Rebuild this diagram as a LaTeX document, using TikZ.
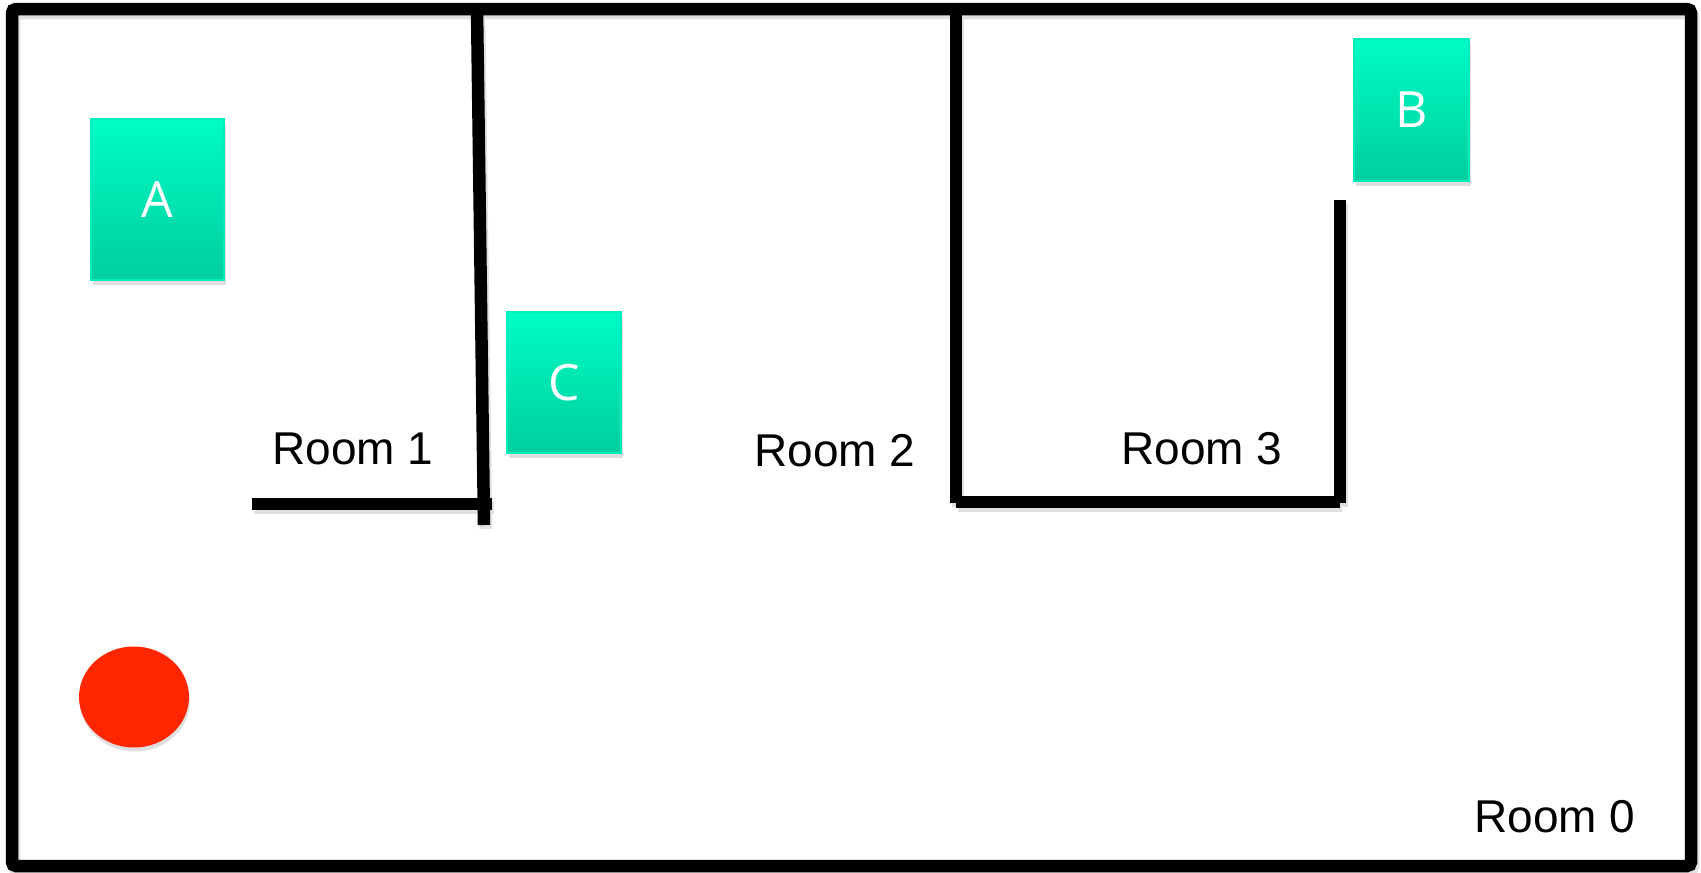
\documentclass[tikz,border=0pt]{standalone}
\usepackage{fontspec}
\setmainfont{Liberation Sans}
\newfontfamily\boxfont{Open Sans}
\usetikzlibrary{shadows,shapes.geometric}
\definecolor{boxtop}{RGB}{0,252,196}
\definecolor{boxbot}{RGB}{0,206,160}
\definecolor{boxedge}{RGB}{0,236,188}
\definecolor{ballred}{RGB}{255,38,0}
\tikzset{
  wall/.style={line width=12.5pt, black},
  wallshadow/.style={line width=12.5pt, black!12},
  itembox/.style={rectangle, top color=boxtop, bottom color=boxbot, draw=boxedge, line width=1.5pt,
    text=white, font=\boxfont\fontsize{50}{54}\selectfont,
    drop shadow={opacity=0.25, shadow xshift=2pt, shadow yshift=-5pt}},
  roomlabel/.style={font=\fontsize{46}{50}\selectfont, text=black, inner sep=0pt}
}
\begin{document}
\begin{tikzpicture}[x=1pt,y=-1pt]
\useasboundingbox (0,0) rectangle (1701,873);
\fill[white] (0,0) rectangle (1701,873);
% soft shadows of walls
\begin{scope}[shift={(2,4)}]
\draw[wallshadow, rounded corners=4pt] (12,9) rectangle (1691,866);
\draw[wallshadow] (477,8) -- (484,525);
\draw[wallshadow] (252,504) -- (492,504);
\draw[wallshadow] (956,8) -- (956,503);
\draw[wallshadow] (956,502) -- (1340,502);
\draw[wallshadow] (1340,200) -- (1340,503);
\end{scope}
% outer frame
\draw[wall, rounded corners=4pt] (12,9) rectangle (1691,866);
% room 1 walls
\draw[wall] (477,8) -- (484,525);
\draw[wall] (252,504) -- (492,504);
% room 2/3 walls
\draw[wall] (956,8) -- (956,503);
\draw[wall] (956,502) -- (1340,502);
\draw[wall] (1340,200) -- (1340,503);
% items
\node[itembox, minimum width=133pt, minimum height=161pt] (A) at (157.5,199.5) {A};
\node[itembox, minimum width=115pt, minimum height=142pt] (B) at (1411.5,110) {B};
\node[itembox, minimum width=114pt, minimum height=141pt] (C) at (564,382.5) {C};
% red ball
\node[ellipse, fill=ballred, minimum width=110pt, minimum height=101pt, inner sep=0pt,
  drop shadow={opacity=0.25, shadow xshift=1pt, shadow yshift=-4pt}] (ball) at (134,697) {};
% labels
\node[roomlabel] (r1) at (353,449) {Room 1};
\node[roomlabel] (r2) at (835,451) {Room 2};
\node[roomlabel] (r3) at (1202,449) {Room 3};
\node[roomlabel] (r0) at (1555,817) {Room 0};
\end{tikzpicture}
\end{document}
